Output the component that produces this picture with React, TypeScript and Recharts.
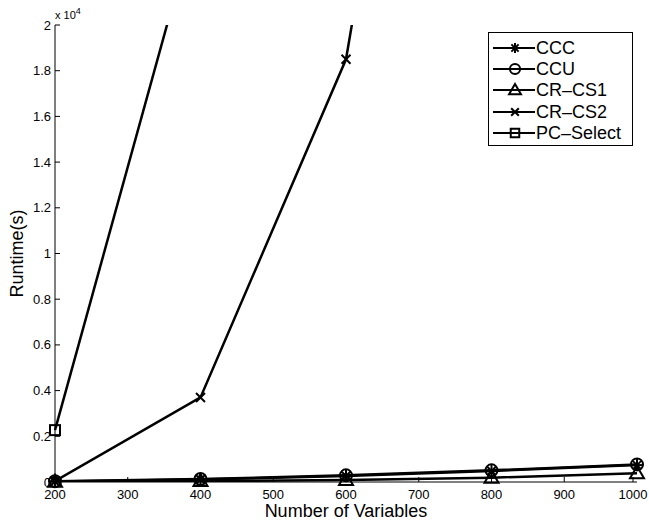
import { LineChart, Line, XAxis, YAxis, Legend } from 'recharts'

// number of variables (x) and runtime in seconds per method
const VARIABLES = [200, 400, 600, 800, 1000]
const CCC = [20, 110, 260, 480, 740]
const CCU = [30, 130, 290, 510, 770]
const CR_CS1 = [10, 40, 90, 190, 380]
const CR_CS2 = [40, 3700, 18500, 56000, null]
const PC_SELECT = [2270, 25300, null, null, null]

const X_TICKS = [200, 300, 400, 500, 600, 700, 800, 900, 1000]
const Y_TICKS = [0, 2000, 4000, 6000, 8000, 10000, 12000, 14000, 16000, 18000, 20000]
const Y_MAX = 20000

const FONT = '"Liberation Sans", Arial, Helvetica, sans-serif'

type Kind = 'star' | 'circle' | 'triangle' | 'cross' | 'square'

const SERIES: { key: string; name: string; kind: Kind }[] = [
  { key: 'ccc', name: 'CCC', kind: 'star' },
  { key: 'ccu', name: 'CCU', kind: 'circle' },
  { key: 'crcs1', name: 'CR\u2013CS1', kind: 'triangle' },
  { key: 'crcs2', name: 'CR\u2013CS2', kind: 'cross' },
  { key: 'pc', name: 'PC\u2013Select', kind: 'square' },
]

const data = VARIABLES.map((n, i) => ({
  n,
  ccc: CCC[i],
  ccu: CCU[i],
  crcs1: CR_CS1[i],
  crcs2: CR_CS2[i],
  pc: PC_SELECT[i],
}))

const Marker = ({ kind, cx, cy, s = 1 }: { kind: Kind; cx: number; cy: number; s?: number }) => {
  const st = { stroke: '#000', strokeWidth: 2, fill: 'none' }
  if (kind === 'circle') return <circle cx={cx} cy={cy} r={6 * s} {...st} />
  if (kind === 'square') return <rect x={cx - 5 * s} y={cy - 5 * s} width={10 * s} height={10 * s} {...st} />
  if (kind === 'triangle')
    return <polygon points={`${cx},${cy - 7 * s} ${cx - 7 * s},${cy + 5 * s} ${cx + 7 * s},${cy + 5 * s}`} {...st} />
  if (kind === 'cross') {
    const d = 4.5 * s
    return (
      <g {...st}>
        <line x1={cx - d} y1={cy - d} x2={cx + d} y2={cy + d} />
        <line x1={cx - d} y1={cy + d} x2={cx + d} y2={cy - d} />
      </g>
    )
  }
  const r = 6 * s
  const q = r * 0.707
  return (
    <g {...st}>
      <line x1={cx} y1={cy - r} x2={cx} y2={cy + r} />
      <line x1={cx - r} y1={cy} x2={cx + r} y2={cy} />
      <line x1={cx - q} y1={cy - q} x2={cx + q} y2={cy + q} />
      <line x1={cx - q} y1={cy + q} x2={cx + q} y2={cy - q} />
    </g>
  )
}

const dotFor = (kind: Kind) => (p: any) => {
  const k = `${p.dataKey}-${p.index}`
  if (p.value == null || p.value > Y_MAX || p.cx == null || p.cy == null) return <g key={k} />
  return (
    <g key={k}>
      <Marker kind={kind} cx={p.cx} cy={p.cy} />
    </g>
  )
}

const BottomTick = ({ x, y, payload }: any) => (
  <g>
    <line x1={x} x2={x} y1={y} y2={y - 5} stroke="#000" />
    <text x={x} y={y + 17} textAnchor="middle" fontSize={13} fontFamily={FONT} fill="#000">
      {payload.value}
    </text>
  </g>
)

const TopTick = ({ x, y }: any) => <line x1={x} x2={x} y1={y} y2={y + 5} stroke="#000" />

const LeftTick = ({ x, y, payload }: any) => (
  <g>
    <line x1={x} x2={x + 5} y1={y} y2={y} stroke="#000" />
    <text x={x - 4} y={y + 4.5} textAnchor="end" fontSize={13} fontFamily={FONT} fill="#000">
      {payload.value / 10000}
    </text>
    {payload.value === Y_MAX && (
      <text x={x} y={y - 6} fontSize={11} fontFamily={FONT} fill="#000">
        x 10<tspan dy={-5} fontSize={9}>4</tspan>
      </text>
    )}
  </g>
)

const RightTick = ({ x, y }: any) => <line x1={x} x2={x - 5} y1={y} y2={y} stroke="#000" />

const LegendBox = () => (
  <div
    style={{
      width: 143,
      border: '1px solid #000',
      background: '#fff',
      padding: '4px 0 2px 0',
      fontFamily: FONT,
      fontSize: 18,
    }}
  >
    {SERIES.map((s) => (
      <div key={s.key} style={{ display: 'flex', alignItems: 'center', height: 21.3 }}>
        <svg width={47} height={20} style={{ display: 'block' }}>
          <line x1={4} x2={46} y1={10} y2={10} stroke="#000" strokeWidth={2} />
          <Marker kind={s.kind} cx={26} cy={10} s={0.85} />
        </svg>
        <span style={{ lineHeight: '20px' }}>{s.name}</span>
      </div>
    ))}
  </div>
)

export default function App() {
  return (
    <div style={{ width: 649, height: 523, background: '#fff', fontFamily: FONT }}>
      <style>{'body{margin:0}.recharts-line-dots{clip-path:none}'}</style>
      <LineChart width={649} height={523} data={data} margin={{ top: 25, right: 12, bottom: 0, left: 0 }}>
        <XAxis
          dataKey="n"
          type="number"
          domain={[200, 1000]}
          ticks={X_TICKS}
          height={41}
          tickSize={0}
          tickMargin={0}
          tick={BottomTick}
          axisLine={{ stroke: '#000' }}
          label={{ value: 'Number of Variables', position: 'insideBottom', offset: 6, fontSize: 18, fill: '#000', fontFamily: FONT }}
        />
        <XAxis
          xAxisId="top"
          orientation="top"
          type="number"
          domain={[200, 1000]}
          ticks={X_TICKS}
          height={0}
          tickSize={0}
          tickMargin={0}
          tick={TopTick}
          axisLine={{ stroke: '#000' }}
        />
        <YAxis
          type="number"
          domain={[0, Y_MAX]}
          ticks={Y_TICKS}
          allowDataOverflow
          width={55}
          tickSize={0}
          tickMargin={0}
          tick={LeftTick}
          axisLine={{ stroke: '#000' }}
          label={{ value: 'Runtime(s)', angle: -90, position: 'insideLeft', offset: 17, fontSize: 18, fill: '#000', fontFamily: FONT, style: { textAnchor: 'middle' } }}
        />
        <YAxis
          yAxisId="right"
          orientation="right"
          type="number"
          domain={[0, Y_MAX]}
          ticks={Y_TICKS}
          allowDataOverflow
          width={0}
          tickSize={0}
          tickMargin={0}
          tick={RightTick}
          axisLine={{ stroke: '#000' }}
        />
        {SERIES.map((s) => (
          <Line
            key={s.key}
            dataKey={s.key}
            name={s.name}
            stroke="#000"
            strokeWidth={2.5}
            dot={dotFor(s.kind)}
            activeDot={false}
            isAnimationActive={false}
          />
        ))}
        <Legend content={LegendBox} layout="vertical" align="center" verticalAlign="middle" wrapperStyle={{ top: 32, left: 488, width: 'auto' }} />
      </LineChart>
    </div>
  )
}
